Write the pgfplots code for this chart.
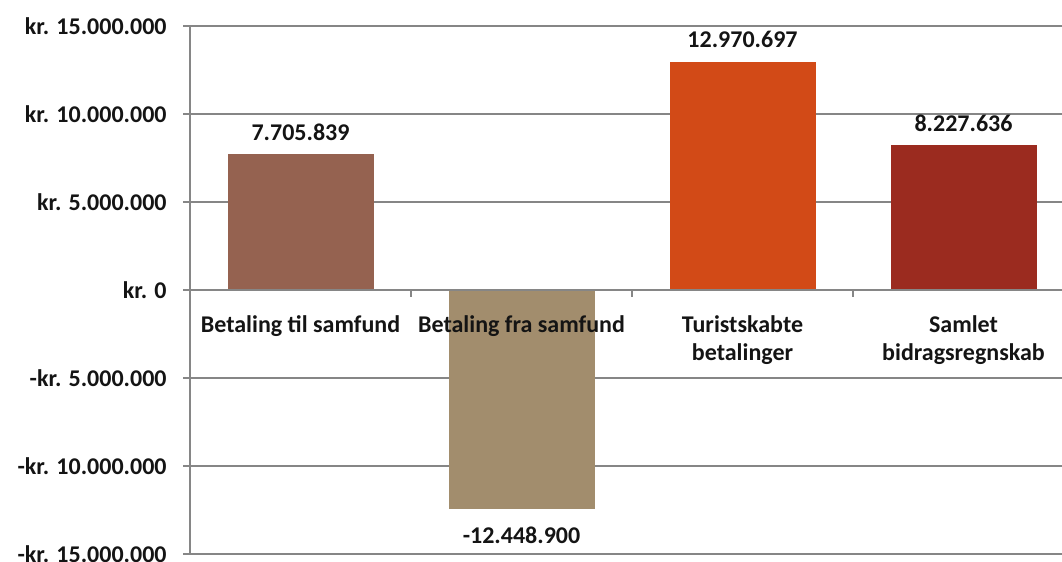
\documentclass[border=0pt]{standalone}
\usepackage{pgfplots}
\pgfplotsset{compat=1.18}
\usepackage{fontspec}
\setmainfont{Carlito}

\definecolor{barA}{RGB}{149,98,80}
\definecolor{barB}{RGB}{162,141,109}
\definecolor{barC}{RGB}{210,74,23}
\definecolor{barD}{RGB}{155,43,31}
\definecolor{gridgray}{RGB}{134,134,134}
\definecolor{txt}{RGB}{20,20,20}

\begin{document}
\begin{tikzpicture}
\begin{axis}[
    set layers=standard,
    scale only axis,
    width=663pt, height=396pt,
    xmin=-0.5, xmax=3.5,
    ymin=-15000000, ymax=15000000,
    axis y line=left,
    axis x line=middle,
    axis line style={-, draw=gridgray, line width=1.3pt},
    every inner x axis line/.append style={-},
    every outer y axis line/.append style={-},
    ymajorgrids=true,
    grid style={draw=gridgray, line width=1.3pt},
    ytick={-15000000,-10000000,-5000000,0,5000000,10000000,15000000},
    yticklabels={-kr. 15.000.000,-kr. 10.000.000,-kr. 5.000.000,kr. 0,kr. 5.000.000,kr. 10.000.000,kr. 15.000.000},
    scaled y ticks=false,
    xtick={0,1,2,3},
    xticklabels={Betaling til samfund,Betaling fra samfund,Turistskabte\\betalinger,Samlet\\bidragsregnskab},
    minor xtick={0.5,1.5,2.5},
    tick align=outside,
    major tick length=5pt,
    minor tick length=5pt,
    major x tick style={draw=none},
    minor x tick style={draw=gridgray, line width=1.3pt},
    ytick style={draw=gridgray, line width=1.3pt},
    yticklabel style={font=\bfseries\fontsize{18}{21}\selectfont, text=txt, xshift=-9pt},
    xticklabel style={font=\bfseries\fontsize{18}{20.5}\selectfont, text=txt, align=center, yshift=-11pt},
    ybar,
    bar width=109.5pt,
    point meta=explicit symbolic,
    nodes near coords,
    every node near coord/.append style={font=\bfseries\fontsize{18}{21}\selectfont, text=txt, inner sep=10pt},
    every axis plot/.append style={on layer=axis ticks},
]
% Betaling til samfund
\addplot[fill=barA, draw=none, bar shift=0pt] coordinates {(0,7705839) [7.705.839]};
% Betaling fra samfund
\addplot[fill=barB, draw=none, bar shift=0pt,
    every node near coord/.append style={anchor=north, yshift=-3pt}] coordinates {(1,-12448900) [-12.448.900]};
% Turistskabte betalinger
\addplot[fill=barC, draw=none, bar shift=0pt] coordinates {(2,12970697) [12.970.697]};
% Samlet bidragsregnskab
\addplot[fill=barD, draw=none, bar shift=0pt] coordinates {(3,8227636) [8.227.636]};
\end{axis}
\pgfresetboundingbox
\useasboundingbox (-142.5pt,-5.25pt) rectangle (654pt,415.5pt);
\end{tikzpicture}
\end{document}
